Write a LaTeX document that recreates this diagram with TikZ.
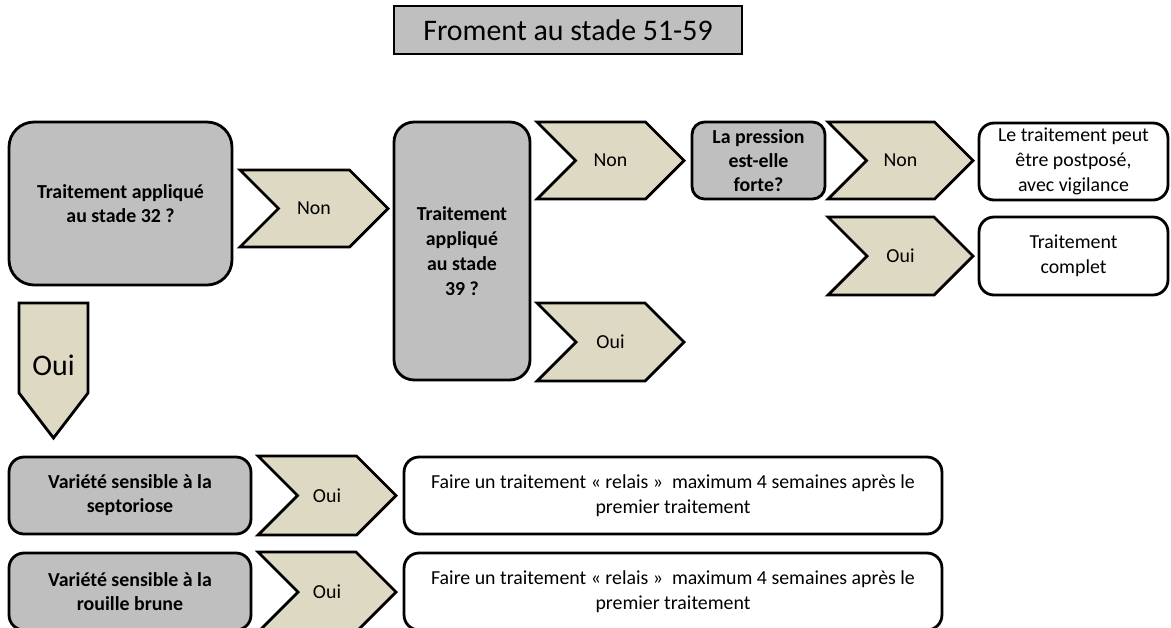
\documentclass[tikz,border=0pt]{standalone}
\usepackage{fontspec}
\setmainfont{Carlito}
\usetikzlibrary{positioning}
\definecolor{qgray}{HTML}{BFBFBF}
\definecolor{chevtan}{HTML}{DDD9C3}
\tikzstyle{qbox}=[draw,line width=1.6pt,fill=qgray,align=center,inner sep=2pt,
                font=\bfseries\fontsize{11.3}{13.6}\selectfont]
\tikzstyle{abox}=[draw,line width=1.6pt,fill=white,align=center,inner sep=2pt,
                rounded corners=0.3cm,font=\fontsize{11.3}{14.4}\selectfont]
\tikzstyle{chev}=[draw,line width=1.6pt,fill=chevtan,line join=miter]
\tikzstyle{chevtxt}=[font=\fontsize{11.3}{13.6}\selectfont]
\tikzstyle{big}=[font=\fontsize{17}{20}\selectfont]
% chevron: name, left, top, width, height, label
\newcommand{\chev}[6]{\draw[chev] (#2,#3) -- (#2+#4-#5/2,#3) -- (#2+#4,#3+#5/2) -- (#2+#4-#5/2,#3+#5) -- (#2,#3+#5) -- (#2+#5/2,#3+#5/2) -- cycle;
  \node[chevtxt] (#1) at (#2+#4/2,#3+#5/2) {#6};}

\begin{document}
\begin{tikzpicture}[x=0.02cm,y=-0.02cm]
  \useasboundingbox (0,0) rectangle (1171,627);
  \clip (0,0) rectangle (1171,627);
  % titre
  \node[qbox,big,minimum width=6.96cm,minimum height=0.96cm] (titre) at (568,30) {Froment au stade 51-59};
  % questions
  \node[qbox,rounded corners=0.5cm,minimum width=4.46cm,minimum height=3.26cm] (q32) at (120.5,203.5)
       {Traitement appliqué\\au stade 32 ?};
  \node[qbox,rounded corners=0.4cm,minimum width=2.72cm,minimum height=5.16cm,
        font=\bfseries\fontsize{11.3}{14.2}\selectfont] (q39) at (462,251)
       {Traitement\\appliqué\\au stade\\39 ?};
  \node[qbox,rounded corners=0.25cm,minimum width=2.66cm,minimum height=1.54cm] (pression) at (758.5,160.5)
       {La pression\\est-elle\\forte?};
  \node[qbox,rounded corners=0.3cm,minimum width=4.84cm,minimum height=1.54cm] (septo) at (130,495.5)
       {Variété sensible à la\\septoriose};
  \node[qbox,rounded corners=0.3cm,minimum width=4.84cm,minimum height=1.54cm] (rouille) at (130,591.5)
       {Variété sensible à la\\rouille brune};
  % reponses
  \node[abox,minimum width=3.78cm,minimum height=1.54cm] (postpose) at (1073.5,161.5)
       {Le traitement peut\\être postposé,\\avec vigilance};
  \node[abox,minimum width=3.78cm,minimum height=1.56cm] (complet) at (1073.5,256)
       {Traitement\\complet};
  \node[abox,minimum width=10.76cm,minimum height=1.54cm] (relais1) at (673,495.5)
       {Faire un traitement « relais »\ \ maximum 4 semaines après le\\premier traitement};
  \node[abox,minimum width=10.76cm,minimum height=1.54cm] (relais2) at (673,591.5)
       {Faire un traitement « relais »\ \ maximum 4 semaines après le\\premier traitement};
  % chevrons
  \chev{non32}{240}{170}{148}{77}{Non}
  \chev{non39}{537}{122}{147}{77}{Non}
  \chev{oui39}{537}{303}{147}{78}{Oui}
  \chev{nonpr}{828}{122}{145}{77}{Non}
  \chev{ouipr}{828}{217}{145}{78}{Oui}
  \chev{ouisep}{258}{456}{138}{79}{Oui}
  \chev{ouirou}{258}{552}{138}{80}{Oui}
  \draw[chev] (19,303) -- (88,303) -- (88,393) -- (53.5,438) -- (19,393) -- cycle;
  \node[big] (oui32) at (53.5,365) {Oui};
\end{tikzpicture}
\end{document}
